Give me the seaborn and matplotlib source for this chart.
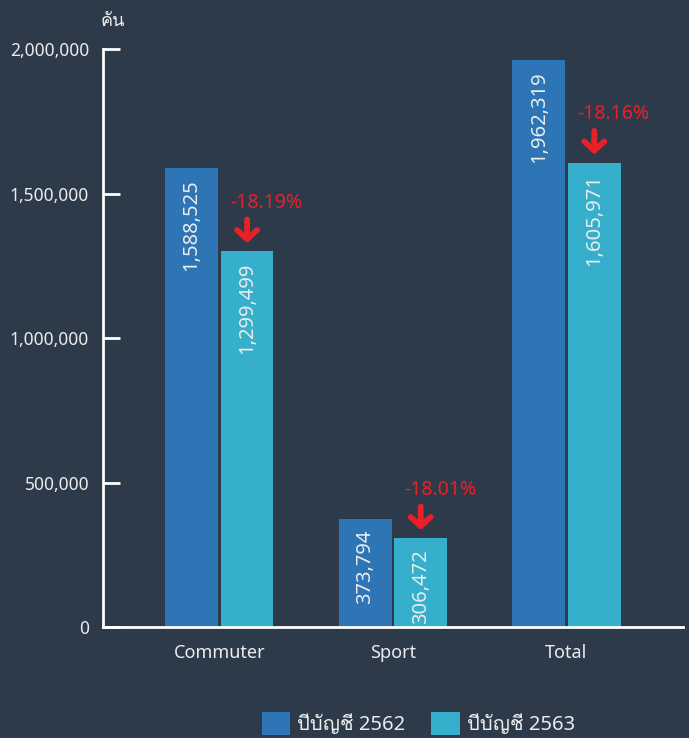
import matplotlib
matplotlib.use("Agg")
import matplotlib.pyplot as plt
from matplotlib.transforms import offset_copy
import pandas as pd
import seaborn as sns

# data
categories = ["Commuter", "Sport", "Total"]
fy_2562 = [1588525, 373794, 1962319]
fy_2563 = [1299499, 306472, 1605971]
changes = ["-18.19%", "-18.01%", "-18.16%"]
series_names = ["ปีบัญชี 2562", "ปีบัญชี 2563"]
y_ticks = [0, 500000, 1000000, 1500000, 2000000]
unit_label = "คัน"

bg = "#2d3a4a"
colors = ["#2e75b6", "#36afcc"]
red = "#e8202a"
txt = "#ececec"

sns.set_theme(style="white")
# Noto Sans for latin text, Loma picks up the Thai glyphs
plt.rcParams["font.family"] = ["Noto Sans", "Loma", "DejaVu Sans"]

df = pd.DataFrame({
    "category": categories * 2,
    "value": fy_2562 + fy_2563,
    "year": [series_names[0]] * 3 + [series_names[1]] * 3,
})

fig = plt.figure(figsize=(6.89, 7.38), dpi=100, facecolor=bg)
ax = fig.add_axes([0.1495, 0.1504, 0.8415, 0.7832])
ax.set_facecolor(bg)

sns.barplot(data=df, x="category", y="value", hue="year", order=categories,
            hue_order=series_names, palette=colors, width=0.64, gap=0.05,
            saturation=1, linewidth=0, ax=ax, legend=True)

ax.set_xlim(-0.67, 2.67)
ax.set_ylim(0, 2000000)
ax.set_yticks(y_ticks)
ax.set_yticklabels([f"{v:,}" for v in y_ticks], color=txt, fontsize=12.5)
ax.tick_params(axis="y", left=True, direction="in", length=12, width=2,
               color="white", pad=10)
ax.tick_params(axis="x", length=0, pad=12, labelsize=13, labelcolor=txt)
ax.set_xlabel("")
ax.set_ylabel("")
for s in ["top", "right"]:
    ax.spines[s].set_visible(False)
for s in ["left", "bottom"]:
    ax.spines[s].set_color("white")
    ax.spines[s].set_linewidth(2)

# value labels inside bars
for cont in ax.containers:
    for bar in cont:
        h = bar.get_height()
        ax.annotate(f"{int(h):,}", (bar.get_x() + bar.get_width() / 2, h),
                    xytext=(0, -8), textcoords="offset points", rotation=90,
                    ha="center", va="top", color=txt, fontsize=14.5)

# change arrows and percentages above second series
tip = offset_copy(ax.transData, fig=fig, x=0, y=6, units="points")
tail = offset_copy(ax.transData, fig=fig, x=0, y=23, units="points")
for bar, ch in zip(ax.containers[1], changes):
    cx = bar.get_x() + bar.get_width() / 2
    h = bar.get_height()
    ax.annotate("", xy=(cx, h), xycoords=tip, xytext=(cx, h), textcoords=tail,
                arrowprops=dict(arrowstyle="->,head_length=0.55,head_width=0.6",
                                color=red, lw=4.2, shrinkA=0, shrinkB=0))
    ax.annotate(ch, (cx, h), xytext=(14, 35), textcoords="offset points",
                ha="center", va="center", color=red, fontsize=14)

ax.annotate(unit_label, (0, 1), xycoords="axes fraction", xytext=(7, 14),
            textcoords="offset points", ha="center", va="bottom",
            color=txt, fontsize=13)

leg = ax.legend(loc="upper left", bbox_to_anchor=(0.274, -0.147), ncol=2,
                frameon=False, fontsize=14.5, handlelength=1.4, handleheight=1.4,
                columnspacing=1.3, handletextpad=0.35, labelcolor=txt,
                borderaxespad=0, borderpad=0)

fig.savefig("out.png", dpi=100, facecolor=bg)
